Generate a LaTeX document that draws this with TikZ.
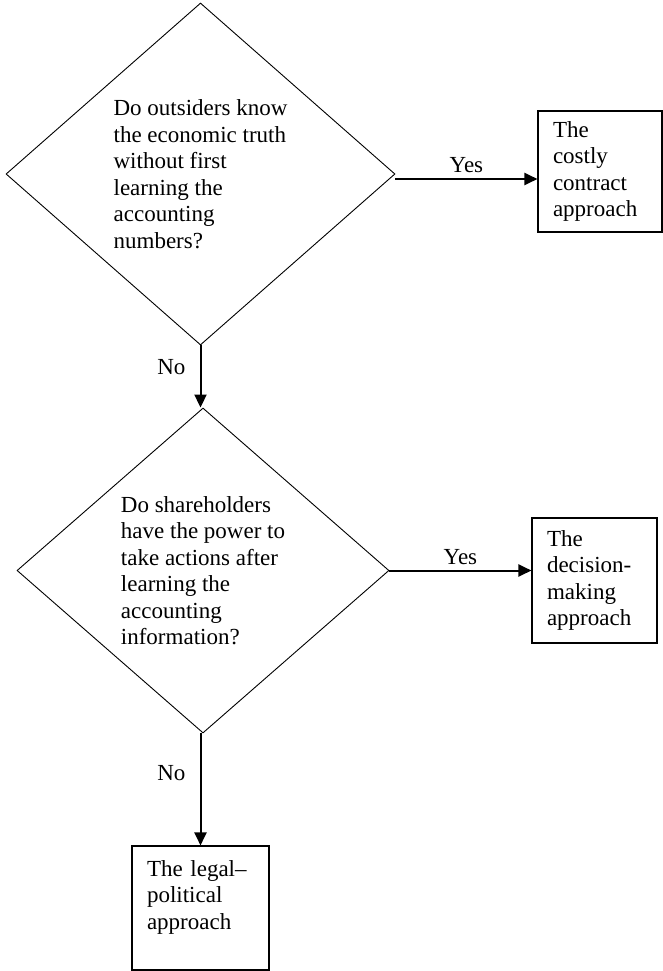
\documentclass[tikz,border=0pt]{standalone}
\usepackage{fontspec}
\setmainfont{Liberation Serif}
\usetikzlibrary{arrows.meta, shapes.geometric}
\definecolor{ink}{HTML}{000000}

\begin{document}
\begin{tikzpicture}[
    x=1pt, y=-1pt,
    every node/.style={font=\fontsize{23}{26.5}\selectfont, text=ink},
    ask/.style={diamond, draw=ink, line width=0.9pt, inner sep=0pt, aspect=1.14, align=left},
    ans/.style={draw=ink, line width=1.1pt, inner xsep=15pt, align=left},
    flow/.style={draw=ink, line width=2pt, -{Triangle[length=13pt, width=12pt]}},
    lab/.style={inner sep=2pt},
]
\useasboundingbox (0,0) rectangle (663,971);

% the two questions
\node[ask, minimum width=389pt, minimum height=342pt] (d1) at (200.5,174)
    {Do outsiders know\\the economic truth\\without first\\learning the\\accounting\\numbers?};
\node[ask, minimum width=372pt, minimum height=325pt] (d2) at (203,570.5)
    {Do shareholders\\have the power to\\take actions after\\learning the\\accounting\\information?};

% the three approaches
\node[ans, text width=94pt, minimum height=121pt] (b1) at (600,171.5)
    {The\\costly\\contract\\approach};
\node[ans, text width=95pt, minimum height=125pt] (b2) at (594.5,580.5)
    {The\\decision-\\making\\approach};
\node[ans, text width=107pt, minimum height=124pt] (b3) at (200.5,908)
    {The legal--\\political\\approach\\\mbox{}};

% yes goes right, no goes down
\draw[flow] ([yshift=-5pt]d1.east) -- ([yshift=-5pt]d1.east -| b1.west)
    node[lab, midway, above, yshift=3pt] {Yes};
\draw[flow] (d2.east) -- (d2.east -| b2.west)
    node[lab, midway, above, yshift=3pt] {Yes};
\draw[flow] (d1.south) -- (d1.south |- d2.north)
    node[lab, pos=0.35, left=12pt] {No};
\draw[flow] (d2.south -| b3.north) -- (b3.north)
    node[lab, pos=0.35, left=12pt] {No};

\end{tikzpicture}
\end{document}
